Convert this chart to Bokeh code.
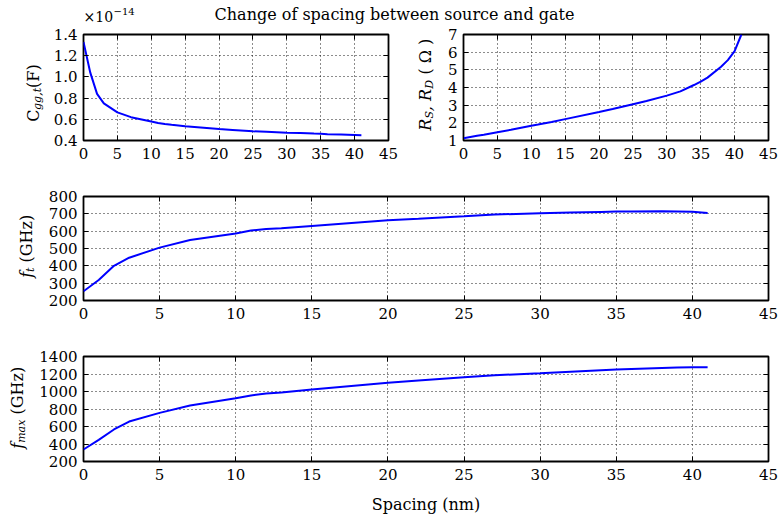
import math
from bokeh.plotting import figure
from bokeh.models import Range1d, FixedTicker, LinearAxis, Label, PrintfTickFormatter
from bokeh.layouts import column, row
from bokeh.embed import file_html
from bokeh.resources import INLINE

# ---------------- data ----------------
spacing = [0, 1, 2, 3, 5, 7, 10, 11, 12, 13, 15, 20, 22, 25, 27, 30, 32, 34, 35, 36, 38, 39, 40, 41]
cgg_e14 = [1.33, 1.04, 0.84, 0.75, 0.665, 0.62, 0.58, 0.565, 0.555, 0.548, 0.535, 0.508, 0.50,
           0.487, 0.482, 0.474, 0.47, 0.465, 0.463, 0.46, 0.456, 0.454, 0.452, 0.45]
rs_rd = [1.13, 1.2, 1.27, 1.33, 1.47, 1.61, 1.83, 1.9, 1.98, 2.05, 2.21, 2.61, 2.78, 3.05, 3.24,
         3.54, 3.78, 4.14, 4.33, 4.56, 5.17, 5.55, 6.06, 7.0]
ft_ghz = [253, 318, 400, 447, 505, 549, 587, 604, 613, 617, 630, 663, 672, 686, 696, 703, 707,
          711, 713, 714, 715, 714, 712, 705]
fmax_ghz = [337, 448, 566, 657, 756, 840, 923, 955, 977, 989, 1023, 1099, 1125, 1164, 1186, 1209,
            1226, 1243, 1251, 1258, 1268, 1273, 1278, 1278]

x_ticks = [0, 5, 10, 15, 20, 25, 30, 35, 40, 45]
cgg_ticks = [0.4, 0.6, 0.8, 1.0, 1.2, 1.4]
rs_ticks = [1, 2, 3, 4, 5, 6, 7]
ft_ticks = [200, 300, 400, 500, 600, 700, 800]
fmax_ticks = [200, 400, 600, 800, 1000, 1200, 1400]

title_text = "Change of spacing between source and gate"
x_label = "Spacing (nm)"
offset_base = "\u00d710"
offset_exp = "\u221214"

FONT = "DejaVu Serif"
TICK_SIZE = "15px"
LAB = 16
SUB = 11
BLUE = "#0000ff"
BASE_FIX = 5  # empirical baseline correction (px)

# approximate DejaVu Serif advance widths (em)
CW = {" ": 0.318, "(": 0.39, ")": 0.39, ",": 0.318, "C": 0.733, "F": 0.692, "G": 0.776,
      "H": 0.874, "R": 0.77, "S": 0.657, "D": 0.835, "\u03a9": 0.79, "a": 0.596, "f": 0.37,
      "g": 0.642, "m": 0.948, "t": 0.402, "x": 0.576, "z": 0.526}


def tw(s, size):
    return sum(CW.get(c, 0.6) for c in s) * size


def style_axis(ax, ticks, fmt=None, hide_labels=False, standoff=6):
    ax.ticker = FixedTicker(ticks=ticks)
    ax.axis_line_color = None
    ax.major_tick_in = 5
    ax.major_tick_out = 0
    ax.major_tick_line_color = "black"
    ax.major_tick_line_width = 1
    ax.minor_tick_line_color = None
    ax.major_label_text_font = FONT
    if hide_labels:
        ax.major_label_text_font_size = "1px"
        ax.major_label_text_color = None
        ax.major_label_text_alpha = 0
        ax.major_label_standoff = 0
    else:
        ax.major_label_text_font_size = TICK_SIZE
        ax.major_label_text_color = "black"
        ax.major_label_standoff = standoff
    if fmt is not None:
        ax.formatter = fmt


def blank(width, height):
    f = figure(width=width, height=height, x_range=Range1d(0, width),
               y_range=Range1d(0, height), x_axis_type=None, y_axis_type=None,
               output_backend="svg", toolbar_location=None, frame_align=False,
               min_border=0, min_border_left=0, min_border_right=0, min_border_top=0,
               min_border_bottom=0)
    f.outline_line_color = None
    f.background_fill_color = "white"
    f.border_fill_color = "white"
    return f


def make(width, height, left, right, top, bottom, yr, yticks, yfmt=None):
    p = figure(width=width, height=height, x_range=Range1d(0, 45), y_range=Range1d(*yr),
               output_backend="svg", toolbar_location=None, frame_align=False,
               min_border_left=left, min_border_right=right,
               min_border_top=top, min_border_bottom=bottom)
    p.outline_line_color = "black"
    p.outline_line_width = 1.8
    p.background_fill_color = "white"
    p.border_fill_color = "white"
    xb = p.xaxis[0]
    style_axis(xb, x_ticks, standoff=7)
    style_axis(p.yaxis[0], yticks, fmt=yfmt, standoff=6)
    top_ax = LinearAxis()
    right_ax = LinearAxis()
    style_axis(top_ax, x_ticks, hide_labels=True)
    style_axis(right_ax, yticks, hide_labels=True)
    p.add_layout(top_ax, "above")
    p.add_layout(right_ax, "right")
    for g, t in ((p.xgrid[0], x_ticks), (p.ygrid[0], yticks)):
        g.ticker = FixedTicker(ticks=t)
        g.grid_line_color = "black"
        g.grid_line_dash = "1 3"
        g.grid_line_width = 1
        g.grid_line_alpha = 0.9
    return p, xb


def label_fig(width, height, base_x, center_y, pieces):
    """pieces: (text, font size, style, baseline shift, gap after)"""
    f = blank(width, height)
    total = sum(tw(t, s) + g for t, s, _, _, g in pieces)
    pos = center_y - total / 2
    for text, size, style, shift, gap in pieces:
        f.add_layout(Label(x=base_x - BASE_FIX + shift, y=pos, text=text, angle=math.pi / 2,
                           text_font=FONT, text_font_size=f"{size}px",
                           text_font_style=style, text_align="left",
                           text_baseline="alphabetic", text_color="black"))
        pos += tw(text, size) + gap
    return f


# ---------------- title strip ----------------
HT = 24
pt = blank(779, HT)
pt.add_layout(Label(x=394, y=HT - 19 + BASE_FIX, text=title_text, text_font=FONT,
                    text_font_size=f"{LAB}px", text_align="center",
                    text_baseline="alphabetic", text_color="black"))
pt.add_layout(Label(x=83, y=HT - 21 + BASE_FIX, text=offset_base, text_font=FONT,
                    text_font_size="14px", text_align="left", text_baseline="alphabetic",
                    text_color="black"))
pt.add_layout(Label(x=83 + 30, y=HT - 16 + BASE_FIX, text=offset_exp, text_font=FONT,
                    text_font_size="10px", text_align="left", text_baseline="alphabetic",
                    text_color="black"))

# ---------------- row 1 ----------------
H1 = 144
lab1 = label_fig(45, H1, 38, 75.5, [("C", LAB, "normal", 0, 0), ("gg,t", SUB, "italic", 4, 0),
                                     ("(F)", LAB, "normal", 0, 0)])
p1, _ = make(355, H1, 38, 12, 10, 28, (0.4, 1.4), cgg_ticks, PrintfTickFormatter(format="%.1f"))
p1.line(spacing, cgg_e14, line_color=BLUE, line_width=2)

lab2 = label_fig(37, H1, 30, 83.5, [("R", LAB, "italic", 0, 0), ("S", SUB, "italic", 4, 0),
                                     (",", LAB, "italic", 0, 5), ("R", LAB, "italic", 0, 0),
                                     ("D", SUB, "italic", 4, 5),
                                     ("( \u03a9 )", LAB, "normal", 0, 0)])
p2, _ = make(342, H1, 26, 11, 10, 28, (1, 7), rs_ticks)
p2.line(spacing, rs_rd, line_color=BLUE, line_width=2)

# ---------------- row 2 ----------------
H3 = 160
lab3 = label_fig(45, H3, 31, 82, [("f", LAB, "italic", 0, 0), ("t", SUB, "italic", 4, 5),
                                   ("(GHz)", LAB, "normal", 0, 0)])
p3, _ = make(734, H3, 38, 11, 28, 28, (200, 800), ft_ticks)
p3.line(spacing, ft_ghz, line_color=BLUE, line_width=2)

# ---------------- row 3 ----------------
H4 = 190
lab4 = label_fig(33, H4, 22, 110.5, [("f", LAB, "italic", 0, 0), ("max", SUB, "italic", 4, 5),
                                      ("(GHz)", LAB, "normal", 0, 0)])
p4, xb4 = make(746, H4, 50, 11, 28, 57, (200, 1400), fmax_ticks)
p4.line(spacing, fmax_ghz, line_color=BLUE, line_width=2)
xb4.axis_label = x_label
xb4.axis_label_text_font = FONT
xb4.axis_label_text_font_size = f"{LAB}px"
xb4.axis_label_text_font_style = "normal"
xb4.axis_label_text_color = "black"
xb4.axis_label_standoff = 12

layout = column(pt, row(lab1, p1, lab2, p2), row(lab3, p3), row(lab4, p4))

open("out.html", "w").write(file_html(layout, INLINE))
